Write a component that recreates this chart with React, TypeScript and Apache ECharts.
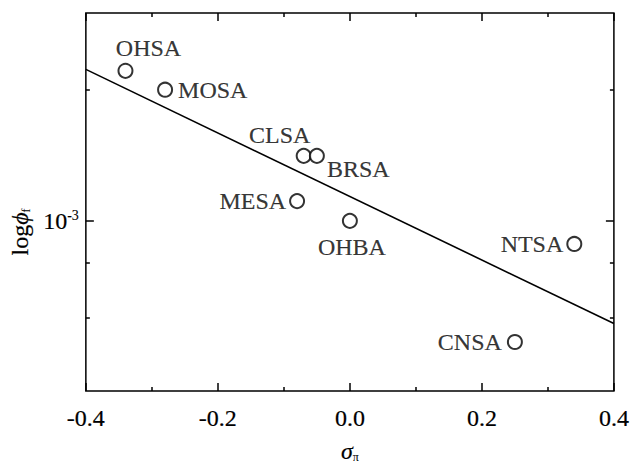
import React, { useEffect, useRef } from "react";
import * as echarts from "echarts";

// ---- data ----
const compounds = ["OHSA", "MOSA", "CLSA", "BRSA", "MESA", "OHBA", "NTSA", "CNSA"];
const sigmaPi = [-0.34, -0.28, -0.07, -0.05, -0.08, 0.0, 0.34, 0.25];
const phiF = [2.21e-3, 2.0e-3, 1.41e-3, 1.41e-3, 1.11e-3, 1.0e-3, 8.85e-4, 5.27e-4];

// regression line end points
const fitX = [-0.4, 0.4];
const fitPhi = [2.227e-3, 5.81e-4];

// axes
const xMin = -0.4;
const xMax = 0.4;
const xStep = 0.2;
const phiMin = 4.07e-4;
const phiMax = 3e-3;
const majorPhiTicks = [1e-3];
const minorPhiTicks = [2e-3, 8e-4, 6e-4];

// label placement (styling)
const labelPlacement: Record<string, { position: string; distance: number; offset: number[] }> = {
  OHSA: { position: "top", distance: 3, offset: [23, 0] },
  MOSA: { position: "right", distance: 5, offset: [0, 0] },
  CLSA: { position: "top", distance: 1, offset: [-24, 0] },
  BRSA: { position: "right", distance: 2, offset: [0, 13] },
  MESA: { position: "left", distance: 3, offset: [0, 0] },
  OHBA: { position: "bottom", distance: 6, offset: [2, 0] },
  NTSA: { position: "left", distance: 3, offset: [0, 0] },
  CNSA: { position: "left", distance: 5, offset: [0, 0] },
};

const FONT = '"Liberation Serif", "Times New Roman", serif';
const FS = 24;
const TB = { textBorderColor: "#000", textBorderWidth: 0.2 };
const lg = (v: number) => Math.log10(v);

export default function App() {
  const ref = useRef<HTMLDivElement>(null);
  useEffect(() => {
    if (!ref.current) return;
    const chart = echarts.init(ref.current, undefined, { renderer: "svg" });
    const yMin = lg(phiMin);
    const yMax = lg(phiMax);
    const baseY = {
      type: "value",
      min: yMin,
      max: yMax,
      splitLine: { show: false },
      axisLine: { show: false, onZero: false },
    };
    const tickStyle = { color: "#000", width: 1.5 };
    const option: any = {
      animation: false,
      backgroundColor: "#fff",
      grid: {
        left: 83,
        right: 17,
        top: 13,
        bottom: 68,
        show: true,
        borderColor: "#000",
        borderWidth: 1.5,
        backgroundColor: "transparent",
      },
      xAxis: [
        {
          type: "value",
          min: xMin,
          max: xMax,
          interval: xStep,
          position: "bottom",
          axisLine: { show: false, onZero: false },
          splitLine: { show: false },
          axisTick: { show: true, inside: true, length: 8, lineStyle: tickStyle },
          minorTick: { show: true, splitNumber: 2, length: 4, lineStyle: tickStyle },
          axisLabel: {
            show: true,
            margin: 15,
            color: "#000",
            fontFamily: FONT,
            fontSize: FS,
            ...TB,
            formatter: (v: number) => v.toFixed(1),
          },
          name: "{s|σ}{sub|π}",
          nameLocation: "middle",
          nameGap: 48,
          nameTextStyle: {
            rich: {
              s: { fontFamily: FONT, fontSize: FS, fontStyle: "italic", color: "#000", ...TB },
              sub: { fontFamily: FONT, fontSize: 12, color: "#000", verticalAlign: "bottom", padding: [8, 0, 0, 0] },
            },
          },
        },
        {
          type: "value",
          min: xMin,
          max: xMax,
          interval: xStep,
          position: "top",
          axisLine: { show: false, onZero: false },
          splitLine: { show: false },
          axisTick: { show: true, inside: true, length: 8, lineStyle: tickStyle },
          minorTick: { show: true, splitNumber: 2, length: 4, lineStyle: tickStyle },
          axisLabel: { show: false },
        },
      ],
      yAxis: [
        {
          ...baseY,
          position: "left",
          axisTick: { show: true, inside: true, length: 8, lineStyle: tickStyle, customValues: majorPhiTicks.map(lg) },
          axisLabel: {
            show: true,
            margin: 7,
            customValues: majorPhiTicks.map(lg),
            formatter: (v: number) => "{b|10}{sup|" + Math.round(v) + "}",
            rich: {
              b: { fontFamily: FONT, fontSize: FS, color: "#000", ...TB },
              sup: { fontFamily: FONT, fontSize: 14, color: "#000", verticalAlign: "top", ...TB, textBorderWidth: 0.1 },
            },
          },
          name: "{b|log}{p|ϕ}{sub|f}",
          nameLocation: "middle",
          nameGap: 45,
          nameRotate: 90,
          nameTextStyle: {
            padding: [0, 60, 0, 0],
            rich: {
              b: { fontFamily: FONT, fontSize: FS, color: "#000", ...TB },
              p: { fontFamily: FONT, fontSize: FS, fontStyle: "italic", color: "#000", ...TB },
              sub: { fontFamily: FONT, fontSize: 12, color: "#000", verticalAlign: "bottom", padding: [6, 0, 0, 0] },
            },
          },
        },
        {
          ...baseY,
          position: "left",
          axisTick: { show: true, inside: true, length: 4, lineStyle: tickStyle, customValues: minorPhiTicks.map(lg) },
          axisLabel: { show: false },
        },
        {
          ...baseY,
          position: "right",
          axisTick: { show: true, inside: true, length: 8, lineStyle: tickStyle, customValues: majorPhiTicks.map(lg) },
          axisLabel: { show: false },
        },
        {
          ...baseY,
          position: "right",
          axisTick: { show: true, inside: true, length: 4, lineStyle: tickStyle, customValues: minorPhiTicks.map(lg) },
          axisLabel: { show: false },
        },
      ],
      series: [
        {
          type: "line",
          xAxisIndex: 0,
          yAxisIndex: 0,
          data: fitX.map((x, i) => [x, lg(fitPhi[i])]),
          showSymbol: false,
          symbol: "none",
          lineStyle: { color: "#000", width: 1.6 },
          silent: true,
        },
        {
          type: "scatter",
          xAxisIndex: 0,
          yAxisIndex: 0,
          symbol: "circle",
          symbolSize: 14,
          itemStyle: { color: "#fff", borderColor: "#000", borderWidth: 2 },
          data: compounds.map((n, i) => ({
            name: n,
            value: [sigmaPi[i], lg(phiF[i])],
            label: {
              show: true,
              formatter: n,
              position: labelPlacement[n].position,
              distance: labelPlacement[n].distance,
              offset: labelPlacement[n].offset,
              color: "#000",
              fontFamily: FONT,
              fontSize: FS,
              ...TB,
            },
          })),
        },
      ],
    };
    chart.setOption(option);
    return () => chart.dispose();
  }, []);
  return (
    <div
      ref={ref}
      style={{ position: "absolute", left: 0, top: 0, width: 632, height: 468 }}
    />
  );
}
